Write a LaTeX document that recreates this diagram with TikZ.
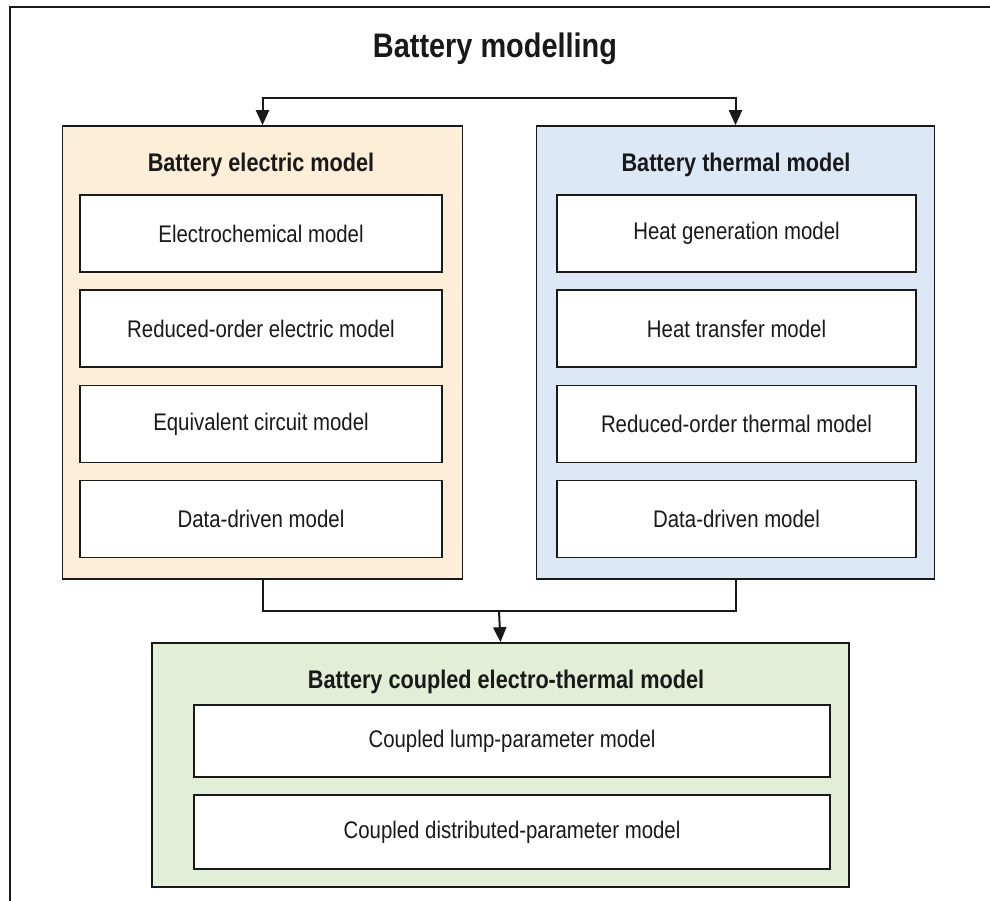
\documentclass[tikz,border=0pt]{standalone}
\usepackage{fontspec}
\setmainfont{Liberation Sans}[FakeStretch=0.85]
\usetikzlibrary{arrows.meta,positioning,calc}

\definecolor{elecfill}{RGB}{252,238,215}
\definecolor{thermfill}{RGB}{220,232,246}
\definecolor{coupfill}{RGB}{227,238,214}
\definecolor{ink}{RGB}{25,25,25}

\begin{document}
\begin{tikzpicture}[
  x=1pt,y=-1pt,
  group/.style={draw=ink,line width=1.6pt,inner sep=0pt},
  item/.style={draw=ink,fill=white,line width=1.5pt,inner sep=0pt,text=ink,font=\fontsize{24}{28}\selectfont},
  head/.style={text=ink,font=\fontsize{25.5}{30}\selectfont\bfseries},
  title/.style={text=ink,font=\fontsize{34}{40}\selectfont\bfseries},
  edge/.style={draw=ink,line width=2pt},
  arr/.style={draw=ink,-{Triangle[length=15pt,width=13pt]},line width=2pt}
]
\useasboundingbox[fill=white] (0,0) rectangle (990,901);
\draw[ink,line width=2.2pt] (10,901) -- (10,7) -- (990,7);

% -------------------------
% Title
% -------------------------
\node[title] (T) at (495,49) {Battery modelling};
\coordinate (split) at (499,98);

% -------------------------
% Left: electric model
% -------------------------
\node[group,fill=elecfill,minimum width=400pt,minimum height=453pt] (elec) at (262.5,352.5) {};
\node[head] (elec_head) at (261,165) {Battery electric model};
\node[item,minimum width=362pt,minimum height=77pt] (e1) at (261,233.5) {Electrochemical model};
\node[item,minimum width=362pt,minimum height=77pt] (e2) at (261,328.5) {Reduced-order electric model};
\node[item,minimum width=362pt,minimum height=77pt] (e3) at (261,424) {Equivalent circuit model};
\node[item,minimum width=362pt,minimum height=77pt] (e4) at (261,519) {Data-driven model};

% -------------------------
% Right: thermal model
% -------------------------
\node[group,fill=thermfill,minimum width=398pt,minimum height=453pt] (therm) at (735.5,352.5) {};
\node[head] (therm_head) at (736,165) {Battery thermal model};
\node[item,minimum width=359pt,minimum height=77pt] (t1) at (736.5,233.5) {Heat generation model};
\node[item,minimum width=359pt,minimum height=77pt] (t2) at (736.5,328.5) {Heat transfer model};
\node[item,minimum width=359pt,minimum height=77pt] (t3) at (736.5,424) {Reduced-order thermal model};
\node[item,minimum width=359pt,minimum height=77pt] (t4) at (736.5,519) {Data-driven model};

% -------------------------
% Bottom: coupled model
% -------------------------
\node[group,fill=coupfill,minimum width=697pt,minimum height=244pt] (coup) at (500.5,765) {};
\node[head] (coup_head) at (506,682) {Battery coupled electro-thermal model};
\node[item,minimum width=636pt,minimum height=72pt] (c1) at (512,741) {Coupled lump-parameter model};
\node[item,minimum width=636pt,minimum height=74pt] (c2) at (512,832) {Coupled distributed-parameter model};

% connectors
\coordinate (merge) at (499,611);
\draw[arr] (split) -| (elec.north);
\draw[arr] (split) -| (therm.north);
\draw[edge] (elec.south) |- (merge);
\draw[edge] (therm.south) |- (merge);
\draw[arr] (merge) -- (coup.north);

\end{tikzpicture}
\end{document}
